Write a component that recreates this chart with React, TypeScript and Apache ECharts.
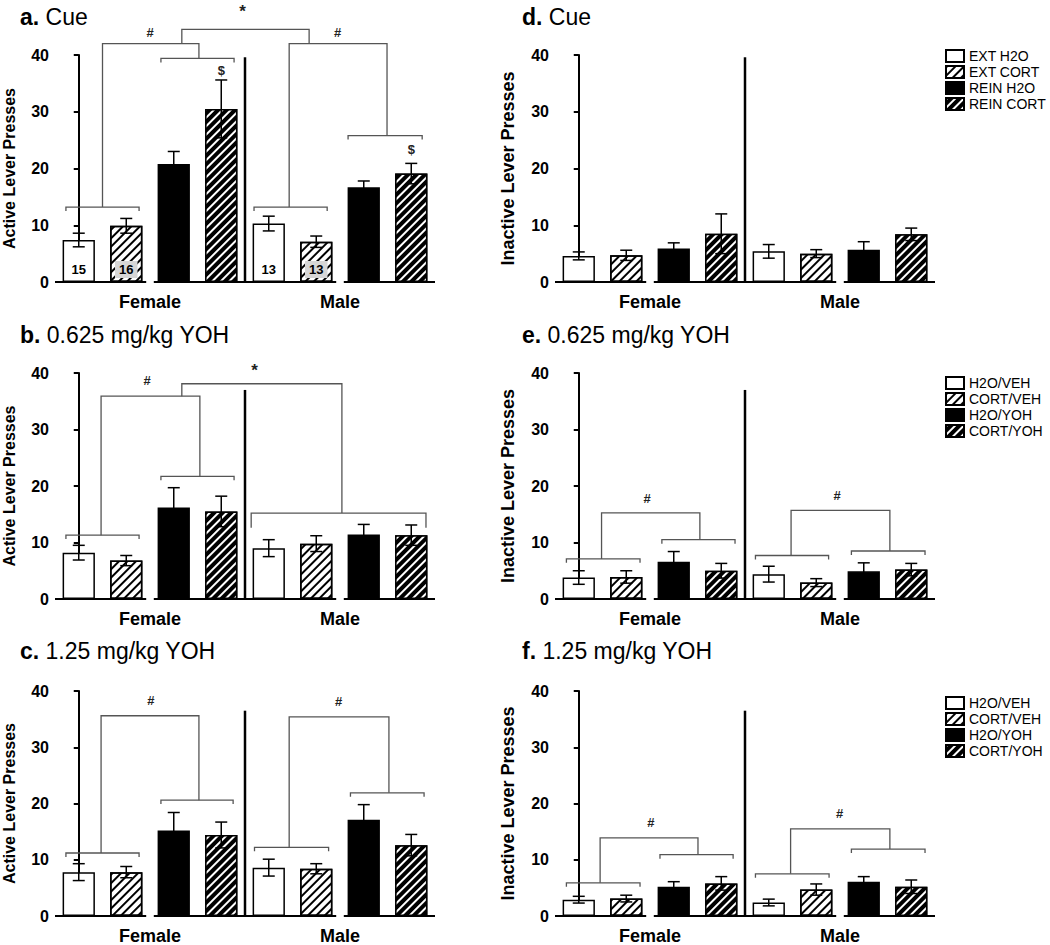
import React, { useEffect, useRef } from 'react';
import * as echarts from 'echarts';

// ---------- data ----------
const cueGroups = ['EXT H2O', 'EXT CORT', 'REIN H2O', 'REIN CORT'];
const yohGroups = ['H2O/VEH', 'CORT/VEH', 'H2O/YOH', 'CORT/YOH'];
const sexes = ['Female', 'Male'];
const yTicks = [0, 10, 20, 30, 40];

// order: Female g1..g4, Male g1..g4
const activeCueMean = [7.4, 9.9, 20.8, 30.5, 10.3, 7.1, 16.7, 19.1];
const activeCueSem = [1.2, 1.3, 2.2, 5.1, 1.3, 1.0, 1.1, 1.8];
const activeCueN = [15, 16, null, null, 13, 13, null, null];

const inactiveCueMean = [4.6, 4.7, 5.9, 8.5, 5.4, 5.0, 5.7, 8.4];
const inactiveCueSem = [0.7, 0.9, 1.0, 3.5, 1.2, 0.7, 1.4, 1.1];

const activeLowMean = [8.2, 6.8, 16.2, 15.5, 9.0, 9.8, 11.4, 11.3];
const activeLowSem = [1.3, 0.9, 3.5, 2.7, 1.5, 1.4, 1.8, 1.8];

const inactiveLowMean = [3.8, 3.9, 6.6, 5.0, 4.4, 2.9, 4.9, 5.2];
const inactiveLowSem = [1.2, 1.1, 1.8, 1.3, 1.4, 0.7, 1.5, 1.1];

const activeHighMean = [7.8, 7.8, 15.2, 14.4, 8.6, 8.4, 17.1, 12.6];
const activeHighSem = [1.5, 1.0, 3.2, 2.3, 1.5, 0.9, 2.7, 1.9];

const inactiveHighMean = [2.9, 3.1, 5.2, 5.8, 2.4, 4.7, 6.1, 5.2];
const inactiveHighSem = [0.6, 0.6, 0.9, 1.2, 0.6, 1.0, 0.9, 1.2];

// significance brackets: [xFrom, xTo, level, leftLegEnd, rightLegEnd] (bar index units / presses)
const bracketsA = [
  [-0.27, 1.27, 13.2, 12.5, 12.5],
  [1.73, 3.27, 39.4, 38.7, 38.7],
  [0.5, 2.53, 42.0, 13.2, 39.4],
  [3.69, 5.23, 13.2, 12.5, 12.5],
  [5.67, 7.23, 25.8, 25.1, 25.1],
  [4.43, 6.49, 42.0, 13.2, 25.8],
  [2.17, 4.85, 44.5, 42.0, 42.0],
];
const sigA: [number, number, string][] = [
  [1.5, 43.9, '#'], [5.45, 43.9, '#'], [3.45, 47.6, '*'], [3, 37.3, '$'], [7, 23.3, '$'],
];
const bracketsB = [
  [-0.27, 1.27, 11.3, 10.6, 10.6],
  [1.73, 3.27, 21.7, 21.0, 21.0],
  [0.47, 2.55, 35.9, 11.3, 21.7],
  [3.63, 7.31, 15.2, 12.6, 12.6],
  [2.17, 5.54, 38.1, 35.9, 15.2],
];
const sigB: [number, number, string][] = [[1.44, 38.7, '#'], [3.7, 40.4, '*']];
const bracketsC = [
  [-0.27, 1.27, 11.2, 10.5, 10.5],
  [1.73, 3.25, 20.6, 19.9, 19.9],
  [0.47, 2.53, 35.6, 11.2, 20.6],
  [3.7, 5.26, 12.2, 11.5, 11.5],
  [5.72, 7.27, 21.9, 21.2, 21.2],
  [4.43, 6.53, 35.4, 12.2, 21.9],
];
const sigC: [number, number, string][] = [[1.52, 38.4, '#'], [5.47, 38.1, '#']];
const bracketsE = [
  [-0.26, 1.29, 7.1, 6.4, 6.4],
  [1.75, 3.29, 10.5, 9.8, 9.8],
  [0.48, 2.55, 15.25, 7.1, 10.5],
  [3.72, 5.26, 7.7, 7.0, 7.0],
  [5.74, 7.29, 8.5, 7.8, 7.8],
  [4.47, 6.55, 15.7, 7.7, 8.5],
];
const sigE: [number, number, string][] = [[1.44, 17.8, '#'], [5.44, 18.4, '#']];
const bracketsF = [
  [-0.26, 1.29, 5.9, 5.2, 5.2],
  [1.71, 3.25, 10.9, 10.2, 10.2],
  [0.45, 2.51, 13.9, 5.9, 10.9],
  [3.72, 5.27, 7.5, 6.8, 6.8],
  [5.74, 7.29, 11.9, 11.2, 11.2],
  [4.46, 6.55, 15.5, 7.5, 11.9],
];
const sigF: [number, number, string][] = [[1.52, 16.6, '#'], [5.49, 18.2, '#']];

// ---------- layout / style ----------
const FONT = "'Liberation Sans', Arial, Helvetica, sans-serif";
const colLeft = [55, 555];
const gridWidth = 380;
const rowTop = [55, 373, 691];
const rowHeight = [227, 226, 226];
const titleLeft = [20, 522];
const titleTop = [5, 323, 639];
const legendTops = [49, 376, 696];

const lightHatch = {
  symbol: 'rect', symbolSize: 1, dashArrayX: [1, 0], dashArrayY: [2, 4],
  rotation: -Math.PI / 4, color: '#000',
};
const darkHatch = {
  symbol: 'rect', symbolSize: 1, dashArrayX: [1, 0], dashArrayY: [2, 3.5],
  rotation: -Math.PI / 4, color: '#fff',
};
const barColors = ['#fff', '#fff', '#000', '#000'];
const barDecals: any[] = [null, lightHatch, null, darkHatch];

type Panel = {
  letter: string; title: string; mean: number[]; sem: number[]; n?: (number | null)[];
  groups: string[]; yName: string; brackets: number[][]; sig: [number, number, string][];
  divTop: number; col: number; row: number;
};

const panels: Panel[] = [
  { letter: 'a.', title: 'Cue', mean: activeCueMean, sem: activeCueSem, n: activeCueN, groups: cueGroups,
    yName: 'Active Lever Presses', brackets: bracketsA, sig: sigA, divTop: 39.6, col: 0, row: 0 },
  { letter: 'b.', title: '0.625 mg/kg YOH', mean: activeLowMean, sem: activeLowSem, groups: yohGroups,
    yName: 'Active Lever Presses', brackets: bracketsB, sig: sigB, divTop: 37, col: 0, row: 1 },
  { letter: 'c.', title: '1.25 mg/kg YOH', mean: activeHighMean, sem: activeHighSem, groups: yohGroups,
    yName: 'Active Lever Presses', brackets: bracketsC, sig: sigC, divTop: 36.5, col: 0, row: 2 },
  { letter: 'd.', title: 'Cue', mean: inactiveCueMean, sem: inactiveCueSem, groups: cueGroups,
    yName: 'Inactive Lever Presses', brackets: [], sig: [], divTop: 39.6, col: 1, row: 0 },
  { letter: 'e.', title: '0.625 mg/kg YOH', mean: inactiveLowMean, sem: inactiveLowSem, groups: yohGroups,
    yName: 'Inactive Lever Presses', brackets: bracketsE, sig: sigE, divTop: 37, col: 1, row: 1 },
  { letter: 'f.', title: '1.25 mg/kg YOH', mean: inactiveHighMean, sem: inactiveHighSem, groups: yohGroups,
    yName: 'Inactive Lever Presses', brackets: bracketsF, sig: sigF, divTop: 36.5, col: 1, row: 2 },
];

function buildOption() {
  const grid: any[] = [];
  const xAxis: any[] = [];
  const yAxis: any[] = [];
  const series: any[] = [];
  const title: any[] = [];
  const nBars = panels[0].mean.length;

  panels.forEach((p, pi) => {
    grid.push({ left: colLeft[p.col], width: gridWidth, top: rowTop[p.row], height: rowHeight[p.row] });
    // bar axis
    xAxis.push({ type: 'category', gridIndex: pi, data: p.mean.map((_, i) => String(i)), show: false });
    // sex label axis
    xAxis.push({
      type: 'category', gridIndex: pi, data: sexes, position: 'bottom',
      axisLine: { show: false }, axisTick: { show: false }, splitLine: { show: false },
      axisLabel: { fontSize: 18, fontWeight: 'bold', color: '#000', margin: 11, fontFamily: FONT },
    });
    // hidden value axis for annotations
    xAxis.push({ type: 'value', gridIndex: pi, min: -0.5, max: nBars - 0.5, show: false });

    yAxis.push({
      type: 'value', gridIndex: pi, min: yTicks[0], max: yTicks[yTicks.length - 1], interval: yTicks[1] - yTicks[0],
      name: p.yName, nameLocation: 'middle', nameGap: 38, nameRotate: 90,
      nameTextStyle: { fontSize: p.col === 0 ? 16 : 18, fontWeight: 'bold', color: '#000', fontFamily: FONT },
      axisLine: { show: true, lineStyle: { color: '#000', width: 2 } },
      axisTick: { show: true, length: 5, lineStyle: { color: '#000', width: 2 } },
      splitLine: { show: false },
      axisLabel: { fontSize: 16, fontWeight: 'bold', color: '#000', margin: 6, fontFamily: FONT },
    });

    title.push({
      text: `{b|${p.letter}} ${p.title}`,
      left: titleLeft[p.col], top: titleTop[p.row], padding: 0,
      textStyle: {
        fontSize: 23, fontWeight: 'normal', color: '#000', fontFamily: FONT,
        rich: { b: { fontSize: 23, fontWeight: 'bold', color: '#000', fontFamily: FONT } },
      },
    });

    const xb = pi * 3, xv = pi * 3 + 2;

    p.groups.forEach((g, gi) => {
      const itemStyle: any = { color: barColors[gi], borderColor: '#000', borderWidth: 1.5 };
      if (barDecals[gi]) itemStyle.decal = barDecals[gi];
      const hasN = !!p.n && gi < 2;
      series.push({
        type: 'bar', name: g, xAxisIndex: xb, yAxisIndex: pi,
        barWidth: '68%', barGap: '-100%',
        data: p.mean.map((m, i) => (i % p.groups.length === gi ? m : '-')),
        itemStyle,
        label: hasN ? {
          show: true, position: 'insideBottom', distance: 4,
          formatter: (prm: any) => String(p.n![prm.dataIndex] ?? ''),
          fontSize: 13, fontWeight: 'bold', color: '#000', fontFamily: FONT,
          backgroundColor: gi === 1 ? '#d6d6d6' : 'transparent', padding: [2, 4],
        } : { show: false },
        emphasis: { disabled: true },
        z: 2,
      });
    });

    // axis line segments (broken between pairs) and sex divider
    const gapHalf = 0.08;
    const segs = [
      [-0.5, 1.5 - gapHalf, 0, 0],
      [1.5 + gapHalf, 5.5 - gapHalf, 0, 0],
      [5.5 + gapHalf, nBars - 0.5, 0, 0],
      [3.5, 3.5, 0, p.divTop],
    ];
    series.push({
      type: 'custom', xAxisIndex: xv, yAxisIndex: pi, clip: false, silent: true, z: 4,
      data: segs,
      renderItem: (params: any, api: any) => {
        const a = api.coord([api.value(0), api.value(2)]);
        const b = api.coord([api.value(1), api.value(3)]);
        return {
          type: 'line', shape: { x1: a[0], y1: a[1], x2: b[0], y2: b[1] },
          style: { stroke: '#000', lineWidth: params.dataIndex === 3 ? 2.5 : 2 },
        };
      },
    });

    // error bars
    series.push({
      type: 'custom', xAxisIndex: xv, yAxisIndex: pi, clip: false, silent: true, z: 5,
      data: p.mean.map((m, i) => [i, m, p.sem[i]]),
      renderItem: (_params: any, api: any) => {
        const x = api.value(0), m = api.value(1), s = api.value(2);
        const t = api.coord([x, m + s]);
        const b = api.coord([x, m - s]);
        const st = { stroke: '#000', lineWidth: 1.5 };
        return {
          type: 'group', children: [
            { type: 'line', shape: { x1: t[0], y1: t[1], x2: b[0], y2: b[1] }, style: st },
            { type: 'line', shape: { x1: t[0] - 6, y1: t[1], x2: t[0] + 6, y2: t[1] }, style: st },
            { type: 'line', shape: { x1: b[0] - 6, y1: b[1], x2: b[0] + 6, y2: b[1] }, style: st },
          ],
        };
      },
    });

    // brackets
    if (p.brackets.length) {
      series.push({
        type: 'custom', xAxisIndex: xv, yAxisIndex: pi, clip: false, silent: true, z: 6,
        data: p.brackets,
        renderItem: (_params: any, api: any) => {
          const x1 = api.value(0), x2 = api.value(1), y = api.value(2);
          const pts = [
            api.coord([x1, api.value(3)]), api.coord([x1, y]),
            api.coord([x2, y]), api.coord([x2, api.value(4)]),
          ];
          return { type: 'polyline', shape: { points: pts }, style: { stroke: '#555', lineWidth: 1.3, fill: 'none' } };
        },
      });
    }
    if (p.sig.length) {
      series.push({
        type: 'custom', xAxisIndex: xv, yAxisIndex: pi, clip: false, silent: true, z: 6,
        data: p.sig.map((s) => [s[0], s[1]]),
        renderItem: (params: any, api: any) => {
          const s = p.sig[params.dataIndex];
          const c = api.coord([api.value(0), api.value(1)]);
          return {
            type: 'text', x: c[0], y: c[1],
            style: {
              text: s[2], fontSize: s[2] === '*' ? 17 : 13, fontWeight: 'bold', fill: '#222',
              align: 'center', verticalAlign: 'middle', fontFamily: FONT,
            },
          };
        },
      });
    }
  });

  const legendBase = {
    orient: 'vertical', left: 945, padding: 0, itemWidth: 18, itemHeight: 12, itemGap: 2,
    icon: 'rect', selectedMode: false,
    textStyle: { fontSize: 14, color: '#000', fontFamily: FONT },
  };
  const legend = [
    { ...legendBase, top: legendTops[0], data: cueGroups },
    { ...legendBase, top: legendTops[1], data: yohGroups },
    { ...legendBase, top: legendTops[2], data: yohGroups },
  ];

  return {
    animation: false,
    backgroundColor: '#fff',
    textStyle: { fontFamily: FONT },
    title, grid, xAxis, yAxis, series, legend,
  };
}

export default function App() {
  const ref = useRef<HTMLDivElement>(null);
  useEffect(() => {
    document.body.style.margin = '0';
    const chart = echarts.init(ref.current!, null, { renderer: 'svg' });
    chart.setOption(buildOption() as any);
    return () => chart.dispose();
  }, []);
  return <div ref={ref} style={{ width: 1050, height: 945 }} />;
}
